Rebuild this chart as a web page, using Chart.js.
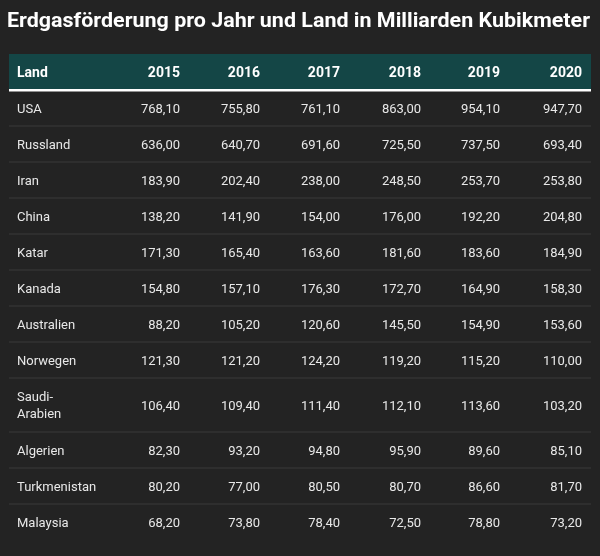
<!DOCTYPE html><html><head><meta charset="utf-8">
<script src="https://cdn.jsdelivr.net/npm/chart.js@4"></script>
<style>html,body{margin:0;background:#232323}</style></head><body>
<div style="width:600px;height:556px"><canvas id="c"></canvas></div>
<script>
const title='Erdgasförderung pro Jahr und Land in Milliarden Kubikmeter';
const years=['2015','2016','2017','2018','2019','2020'];
const countries=['USA','Russland','Iran','China','Katar','Kanada','Australien','Norwegen','Saudi-\nArabien','Algerien','Turkmenistan','Malaysia'];
const v2015=[768.1,636.0,183.9,138.2,171.3,154.8,88.2,121.3,106.4,82.3,80.2,68.2];
const v2016=[755.8,640.7,202.4,141.9,165.4,157.1,105.2,121.2,109.4,93.2,77.0,73.8];
const v2017=[761.1,691.6,238.0,154.0,163.6,176.3,120.6,124.2,111.4,94.8,80.5,78.4];
const v2018=[863.0,725.5,248.5,176.0,181.6,172.7,145.5,119.2,112.1,95.9,80.7,72.5];
const v2019=[954.1,737.5,253.7,192.2,183.6,164.9,154.9,115.2,113.6,89.6,86.6,78.8];
const v2020=[947.7,693.4,253.8,204.8,184.9,158.3,153.6,110.0,103.2,85.1,81.7,73.2];
const series=[v2015,v2016,v2017,v2018,v2019,v2020];
const colRight=[171,251,331,412,491,573];
const rowH=countries.map(c=>c.includes('\n')?1.5:1);
const edges=[0,1];rowH.forEach(h=>edges.push(edges[edges.length-1]+h));
const fmt=v=>v.toFixed(2).replace('.',',');
const tablePlugin={id:'table',afterDraw(ch){
 const c=ch.ctx,x=ch.scales.x,y=ch.scales.y,L=x.getPixelForValue(0),R=x.getPixelForValue(582);
 c.save();
 c.fillStyle='#fff';c.font='bold 20px Roboto';c.textBaseline='middle';
 const w=c.measureText(title).width;c.save();c.translate(7,22);c.scale(583/w,1);c.fillText(title,0,0);c.restore();
 const y0=y.getPixelForValue(0),y1=y.getPixelForValue(1);
 c.fillStyle='#144646';c.fillRect(L,y0,R-L,y1-y0);
 c.fillStyle='#fff';c.fillRect(L,y1-1,R-L,2.5);
 c.font='bold 14px Roboto';const hy=(y0+y1)/2+1;
 c.textAlign='left';c.fillText('Land',x.getPixelForValue(8),hy);
 c.textAlign='right';years.forEach((t,i)=>c.fillText(t,x.getPixelForValue(colRight[i]),hy));
 c.font='13px Roboto';
 countries.forEach((n,r)=>{
  const a=y.getPixelForValue(edges[r+1]),b=y.getPixelForValue(edges[r+2]),m=(a+b)/2+1.5;
  if(r<countries.length-1){c.fillStyle='#3a3a3a';c.fillRect(L,b-0.5,R-L,1);}
  c.fillStyle='#e8e8e8';c.textAlign='left';
  const ls=n.split('\n');ls.forEach((s,k)=>c.fillText(s,x.getPixelForValue(8),m+(k-(ls.length-1)/2)*17));
  c.textAlign='right';series.forEach((sv,i)=>c.fillText(fmt(sv[r]),x.getPixelForValue(colRight[i]),m));
 });
 c.restore();}};
new Chart(document.getElementById('c'),{type:'scatter',
 data:{datasets:[{data:countries.map((n,r)=>({x:0,y:(edges[r+1]+edges[r+2])/2})),pointRadius:0}]},
 options:{responsive:true,maintainAspectRatio:false,animation:false,
  layout:{padding:{left:9,right:9,top:54,bottom:16}},
  plugins:{legend:{display:false},tooltip:{enabled:false}},
  scales:{x:{type:'linear',min:0,max:582,display:false},y:{type:'linear',min:0,max:edges[edges.length-1],reverse:true,display:false}}},
 plugins:[tablePlugin]});
</script></body></html>
